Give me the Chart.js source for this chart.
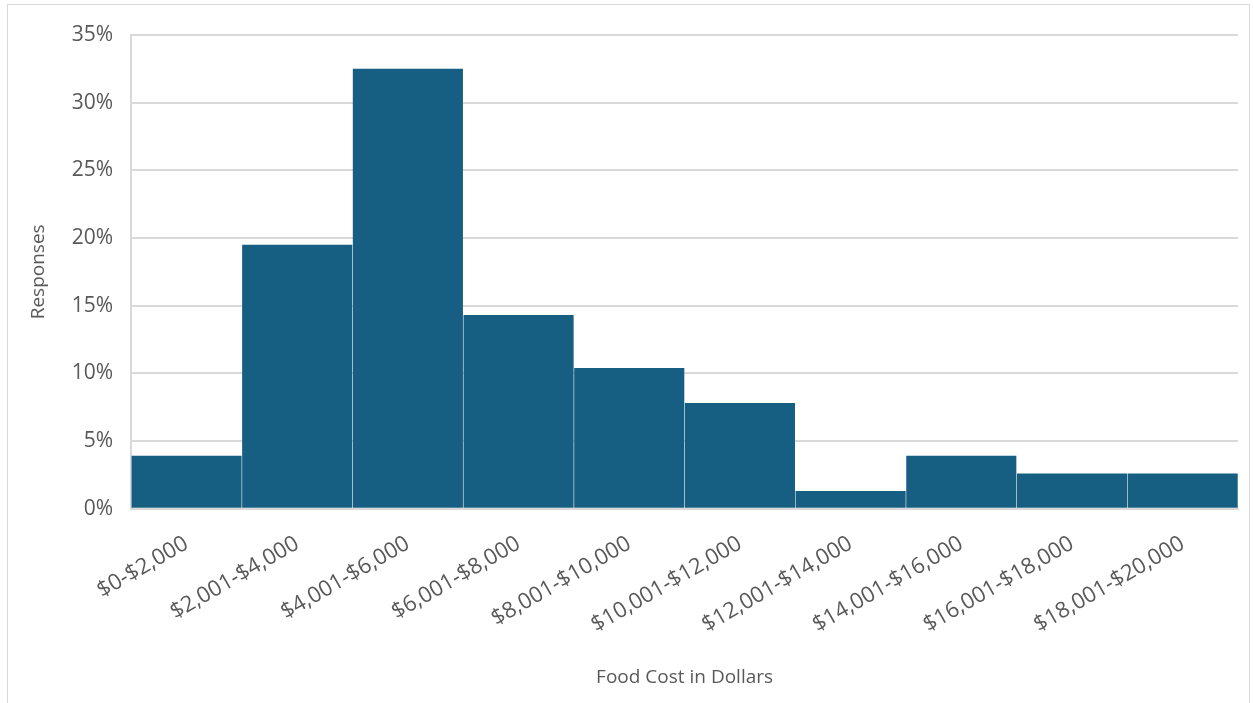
<!DOCTYPE html>
<html>
<head>
<meta charset="utf-8">
<script src="https://cdn.jsdelivr.net/npm/chart.js@4"></script>
<style>
  html, body { margin: 0; padding: 0; background: #fff; }
  .frame {
    position: absolute; left: 7px; top: 4px; width: 1243px; height: 699px;
    border: 1px solid #d9d9d9; border-bottom: none; box-sizing: border-box;
  }
  .wrap { position: absolute; left: 0; top: 0; width: 1253px; height: 703px; }
</style>
</head>
<body>
<div class="frame"></div>
<div class="wrap"><canvas id="chart"></canvas></div>
<script>
const categories = ['$0-$2,000', '$2,001-$4,000', '$4,001-$6,000', '$6,001-$8,000', '$8,001-$10,000',
  '$10,001-$12,000', '$12,001-$14,000', '$14,001-$16,000', '$16,001-$18,000', '$18,001-$20,000'];
const responses = [3.9, 19.5, 32.5, 14.3, 10.4, 7.8, 1.3, 3.9, 2.6, 2.6];
const yTicks = [0, 5, 10, 15, 20, 25, 30, 35];

const textColor = '#595959';
const gridColor = '#d9d9d9';
const fontFamily = "'Open Sans', 'Noto Sans', sans-serif";

new Chart(document.getElementById('chart'), {
  type: 'bar',
  data: {
    labels: categories,
    datasets: [{
      data: responses,
      backgroundColor: '#175f82',
      barPercentage: 0.995,
      categoryPercentage: 1
    }]
  },
  options: {
    responsive: true,
    maintainAspectRatio: false,
    animation: false,
    layout: { padding: { top: 35, right: 15, bottom: 10, left: 23 } },
    plugins: { legend: { display: false }, tooltip: { enabled: false } },
    scales: {
      x: {
        grid: { display: false },
        border: { display: true, color: gridColor, width: 2 },
        ticks: {
          color: textColor, font: { family: fontFamily, size: 22 },
          minRotation: 30, maxRotation: 30, padding: 14
        },
        title: {
          display: true, text: 'Food Cost in Dollars', color: textColor,
          font: { family: fontFamily, size: 19 }, padding: { top: 14 }
        }
      },
      y: {
        min: 0, max: 35,
        afterBuildTicks: axis => { axis.ticks = yTicks.map(v => ({ value: v })); },
        grid: { color: gridColor, lineWidth: 2, drawTicks: false },
        border: { display: true, color: gridColor, width: 2 },
        ticks: {
          color: textColor, font: { family: fontFamily, size: 21 }, padding: 18,
          callback: v => v + '%'
        },
        title: {
          display: true, text: 'Responses', color: textColor,
          font: { family: fontFamily, size: 19 }, padding: { bottom: 4 }
        }
      }
    }
  }
});
</script>
</body>
</html>
